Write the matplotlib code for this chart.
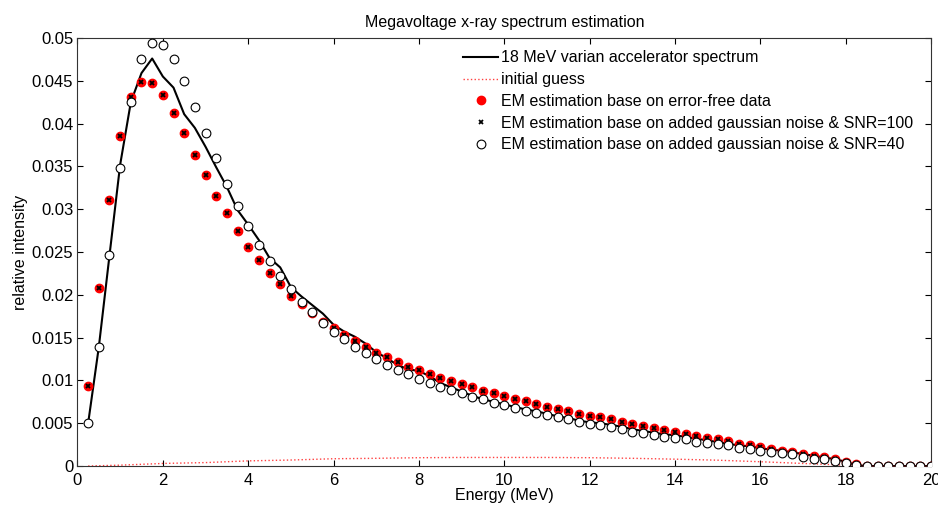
import matplotlib
matplotlib.use('Agg')
import matplotlib.pyplot as plt
import numpy as np

plt.rcParams['font.family'] = ['Liberation Sans', 'DejaVu Sans']

# energy grid (MeV), 0.25 MeV bins
energy = np.arange(0.25, 20.001, 0.25)

true_spectrum = [
    0.0050, 0.0139, 0.0246, 0.0352, 0.0425, 0.0459, 0.0476, 0.0455,
    0.0442, 0.0411, 0.0395, 0.0373, 0.0349, 0.0326, 0.0299, 0.0282,
    0.0264, 0.0243, 0.0232, 0.0209, 0.0198, 0.0188, 0.0178, 0.0165,
    0.0157, 0.0151, 0.0143, 0.0133, 0.0126, 0.0118, 0.0113, 0.0111,
    0.0105, 0.0097, 0.0092, 0.0087, 0.0082, 0.0078, 0.0075, 0.0072,
    0.0069, 0.0066, 0.0064, 0.0061, 0.0058, 0.0056, 0.0053, 0.0051,
    0.0050, 0.0048, 0.0046, 0.0043, 0.0041, 0.0039, 0.0037, 0.0036,
    0.0034, 0.0032, 0.0030, 0.0028, 0.0026, 0.0024, 0.0023, 0.0021,
    0.0019, 0.0018, 0.0016, 0.0014, 0.0012, 0.0010, 0.0008, 0.0005,
    0.0001, 0.0, 0.0, 0.0, 0.0, 0.0, 0.0, 0.0,
]

em_free = [
    0.0093, 0.0208, 0.0311, 0.0386, 0.0431, 0.0449, 0.0447, 0.0433,
    0.0412, 0.0389, 0.0363, 0.0340, 0.0315, 0.0296, 0.0275, 0.0256,
    0.0241, 0.0226, 0.0213, 0.0199, 0.0189, 0.0179, 0.0168, 0.0161,
    0.0153, 0.0146, 0.0139, 0.0132, 0.0127, 0.0121, 0.0116, 0.0112,
    0.0107, 0.0103, 0.0099, 0.0096, 0.0092, 0.0088, 0.0085, 0.0082,
    0.0078, 0.0076, 0.0073, 0.0069, 0.0067, 0.0064, 0.0061, 0.0058,
    0.0057, 0.0055, 0.0051, 0.0049, 0.0047, 0.0044, 0.0042, 0.0040,
    0.0037, 0.0035, 0.0033, 0.0031, 0.0029, 0.0026, 0.0024, 0.0022,
    0.0020, 0.0018, 0.0016, 0.0014, 0.0012, 0.0010, 0.0008, 0.0005,
    0.0002, 0.0, 0.0, 0.0, 0.0, 0.0, 0.0, 0.0,
]

# SNR=100 markers sit on top of the error-free ones
em_snr100 = [
    0.0093, 0.0208, 0.0311, 0.0386, 0.0431, 0.0449, 0.0447, 0.0433,
    0.0412, 0.0389, 0.0363, 0.0340, 0.0315, 0.0296, 0.0275, 0.0256,
    0.0241, 0.0226, 0.0213, 0.0199, 0.0189, 0.0179, 0.0168, 0.0161,
    0.0153, 0.0146, 0.0139, 0.0132, 0.0127, 0.0121, 0.0116, 0.0112,
    0.0107, 0.0103, 0.0099, 0.0096, 0.0092, 0.0088, 0.0085, 0.0082,
    0.0078, 0.0076, 0.0073, 0.0069, 0.0067, 0.0064, 0.0061, 0.0058,
    0.0057, 0.0055, 0.0051, 0.0049, 0.0047, 0.0044, 0.0042, 0.0040,
    0.0037, 0.0035, 0.0033, 0.0031, 0.0029, 0.0026, 0.0024, 0.0022,
    0.0020, 0.0018, 0.0016, 0.0014, 0.0012, 0.0010, 0.0008, 0.0005,
    0.0002, 0.0, 0.0, 0.0, 0.0, 0.0, 0.0, 0.0,
]

em_snr40 = [
    0.0050, 0.0139, 0.0246, 0.0348, 0.0425, 0.0475, 0.0494, 0.0492,
    0.0475, 0.0450, 0.0419, 0.0389, 0.0360, 0.0329, 0.0304, 0.0280,
    0.0258, 0.0239, 0.0222, 0.0207, 0.0192, 0.0180, 0.0167, 0.0157,
    0.0148, 0.0139, 0.0132, 0.0125, 0.0118, 0.0112, 0.0107, 0.0102,
    0.0097, 0.0092, 0.0089, 0.0085, 0.0081, 0.0078, 0.0074, 0.0071,
    0.0068, 0.0064, 0.0062, 0.0060, 0.0057, 0.0055, 0.0051, 0.0049,
    0.0048, 0.0046, 0.0043, 0.0040, 0.0039, 0.0036, 0.0034, 0.0033,
    0.0031, 0.0028, 0.0027, 0.0026, 0.0024, 0.0021, 0.0020, 0.0018,
    0.0016, 0.0015, 0.0014, 0.0011, 0.0008, 0.0008, 0.0006, 0.0004,
    0.0001, 0.0, 0.0, 0.0, 0.0, 0.0, 0.0, 0.0,
]

# initial guess, read at 1 MeV steps
guess_energy = [0.25, 1, 2, 3, 4, 5, 6, 7, 8, 9, 10, 11, 12, 13, 14, 15, 16, 17, 18, 19, 20]
guess_values = [0.0, 0.0001, 0.0003, 0.0004, 0.0006, 0.0007, 0.00085, 0.0009, 0.00097,
                0.001, 0.001, 0.001, 0.00097, 0.0009, 0.0008, 0.00068, 0.0005, 0.0003,
                0.0001, 0.0, 0.0]

xticks = list(range(0, 21, 2))
yticks = [0, 0.005, 0.01, 0.015, 0.02, 0.025, 0.03, 0.035, 0.04, 0.045, 0.05]
ytick_labels = ['0', '0.005', '0.01', '0.015', '0.02', '0.025', '0.03', '0.035', '0.04', '0.045', '0.05']

fig = plt.figure(figsize=(9.38, 5.05), dpi=100)
ax = fig.add_axes([0.0826, 0.0772, 0.9100, 0.8476])

ax.plot(energy, true_spectrum, color='k', lw=1.5, label='18 MeV varian accelerator spectrum', zorder=3)
ax.plot(guess_energy, guess_values, color='red', ls=':', lw=1.0, alpha=0.75, label='initial guess', zorder=2)
ax.plot(energy, em_free, ls='none', marker='o', ms=6.0, mfc='red', mec='red',
        label='EM estimation base on error-free data', zorder=4)
ax.plot(energy, em_snr100, ls='none', marker='x', ms=3.2, mew=1.3, color='k',
        label='EM estimation base on added gaussian noise & SNR=100', zorder=5)
ax.plot(energy, em_snr40, ls='none', marker='o', ms=6.3, mfc='white', mec='k', mew=0.8,
        label='EM estimation base on added gaussian noise & SNR=40', zorder=6)

ax.set_xlim(0, 20)
ax.set_ylim(0, 0.05)
ax.set_xticks(xticks)
ax.set_yticks(yticks)
ax.set_yticklabels(ytick_labels)
ax.tick_params(direction='in', length=4, width=0.8, top=True, right=True, labelsize=12)
ax.tick_params(axis='x', pad=5)
ax.tick_params(axis='y', pad=3)
for s in ax.spines.values():
    s.set_color('#333333')
    s.set_linewidth(0.8)

ax.set_title('Megavoltage x-ray spectrum estimation', fontsize=11.5, pad=8)
ax.set_xlabel('Energy (MeV)', fontsize=11.5, labelpad=0)
ax.set_ylabel('relative intensity', fontsize=11.5, labelpad=3)

ax.legend(loc='upper left', bbox_to_anchor=(0.437, 1.0), frameon=False, fontsize=11.5,
          handlelength=2.2, handletextpad=0.2, labelspacing=0.42, borderaxespad=0.38)

fig.savefig('out.png', dpi=100)
